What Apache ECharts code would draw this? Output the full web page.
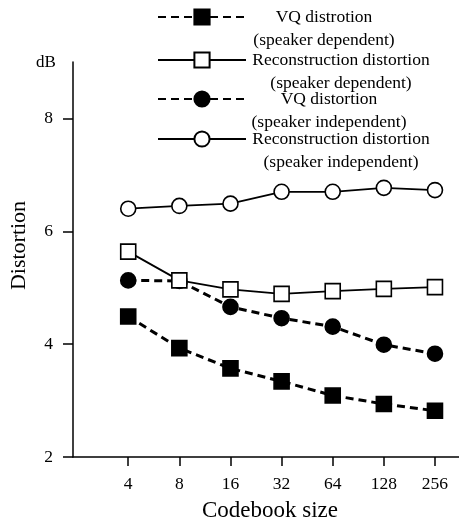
<!DOCTYPE html>
<html>
<head>
<meta charset="utf-8">
<script src="https://cdn.jsdelivr.net/npm/echarts@6/dist/echarts.min.js"></script>
<style>
  html, body { margin: 0; padding: 0; background: #fff; }
  #chart { width: 459px; height: 518px; }
</style>
</head>
<body>
<div id="chart"></div>
<script>
// ---- data ----
const codebookSizes = [4, 8, 16, 32, 64, 128, 256];
const tickLabels = ['4', '8', '16', '32', '64', '128', '256'];
const seriesNames = [
  'VQ distrotion (speaker dependent)',
  'Reconstruction distortion (speaker dependent)',
  'VQ distortion (speaker independent)',
  'Reconstruction distortion (speaker independent)'
];
const vqDependent = [4.49, 3.93, 3.57, 3.34, 3.09, 2.94, 2.82];
const recDependent = [5.64, 5.13, 4.97, 4.89, 4.94, 4.98, 5.01];
const vqIndependent = [5.13, 5.12, 4.66, 4.46, 4.31, 3.99, 3.83];
const recIndependent = [6.40, 6.45, 6.49, 6.70, 6.70, 6.77, 6.73];
const yTicks = [2, 4, 6, 8];

// ---- chart ----
const FONT = 'Liberation Serif';
const xs = codebookSizes.map(s => Math.log2(s));
const pairs = vals => vals.map((v, i) => [xs[i], v]);
const labelFor = v => {
  const i = xs.findIndex(x => Math.abs(x - v) < 1e-6);
  return i >= 0 ? tickLabels[i] : '';
};

const dash = [8, 5];
const legendLines = [
  ['VQ distrotion', '(speaker dependent)', 140, 146],
  ['Reconstruction distortion', '(speaker dependent)', 180, 146],
  ['VQ distortion', '(speaker independent)', 126, 156],
  ['Reconstruction distortion', '(speaker independent)', 180, 156]
];
const legendCenters = [17, 60, 99, 139];
const LFS = 17.5;

const legends = seriesNames.map((name, i) => ({
  data: [name],
  left: 157,
  top: legendCenters[i] - 34.5,
  padding: 0,
  itemWidth: 88,
  itemHeight: 19,
  selectedMode: false,
  textStyle: {
    fontFamily: FONT, fontSize: LFS, color: '#000', lineHeight: 23,
    rich: {
      a: { fontFamily: FONT, fontSize: LFS, color: '#000', width: legendLines[i][2], align: 'center', lineHeight: 23 },
      b: { fontFamily: FONT, fontSize: LFS, color: '#000', width: legendLines[i][3], align: 'center', lineHeight: 23 }
    }
  },
  formatter: () => ' \n{a|' + legendLines[i][0] + '}\n{b|' + legendLines[i][1] + '}'
}));

const mkSeries = (name, vals, symbol, fill, lineType, lineWidth, z) => ({
  name,
  type: 'line',
  data: pairs(vals),
  symbol,
  symbolSize: 15,
  showAllSymbol: true,
  z,
  lineStyle: { color: '#000', width: lineWidth, type: lineType },
  itemStyle: { color: fill, borderColor: '#000', borderWidth: 1.6, opacity: 1 },
  emphasis: { disabled: true },
  animation: false
});

const chart = echarts.init(document.getElementById('chart'), null, { renderer: 'canvas' });
chart.setOption({
  animation: false,
  backgroundColor: '#fff',
  title: {
    text: 'dB', left: 36, top: 54, padding: 0,
    textStyle: { fontFamily: FONT, fontSize: 17, fontWeight: 'normal', color: '#000' }
  },
  legend: legends,
  grid: { left: 73, right: 0, top: 62, bottom: 61, containLabel: false, outerBoundsMode: 'none' },
  xAxis: {
    type: 'value',
    min: 0.92, max: 8.47,
    name: 'Codebook size',
    nameLocation: 'middle',
    nameGap: 42,
    nameTextStyle: { fontFamily: FONT, fontSize: 23, color: '#000', padding: [0, 0, 0, 8] },
    axisLine: { show: true, onZero: false, lineStyle: { color: '#000', width: 1.5 } },
    axisTick: { show: true, length: 9, customValues: xs, lineStyle: { color: '#000', width: 1.5 } },
    axisLabel: { customValues: xs, formatter: v => labelFor(v), margin: 18, fontFamily: FONT, fontSize: 17.5, color: '#000' },
    splitLine: { show: false }
  },
  yAxis: {
    type: 'value',
    min: 2, max: 9,
    name: 'Distortion',
    nameLocation: 'middle',
    nameRotate: 90,
    nameGap: 43,
    nameTextStyle: { fontFamily: FONT, fontSize: 22, color: '#000', padding: [0, 0, 0, 28] },
    axisLine: { show: true, lineStyle: { color: '#000', width: 1.5 } },
    axisTick: { show: true, length: 10, customValues: yTicks, lineStyle: { color: '#000', width: 1.5 } },
    axisLabel: { customValues: yTicks, margin: 20, fontFamily: FONT, fontSize: 17.5, color: '#000' },
    splitLine: { show: false }
  },
  series: [
    mkSeries(seriesNames[0], vqDependent, 'rect', '#000', dash, 3, 2),
    mkSeries(seriesNames[1], recDependent, 'rect', '#fff', 'solid', 1.8, 4),
    mkSeries(seriesNames[2], vqIndependent, 'circle', '#000', dash, 3, 3),
    mkSeries(seriesNames[3], recIndependent, 'circle', '#fff', 'solid', 1.8, 5)
  ]
});
</script>
</body>
</html>
